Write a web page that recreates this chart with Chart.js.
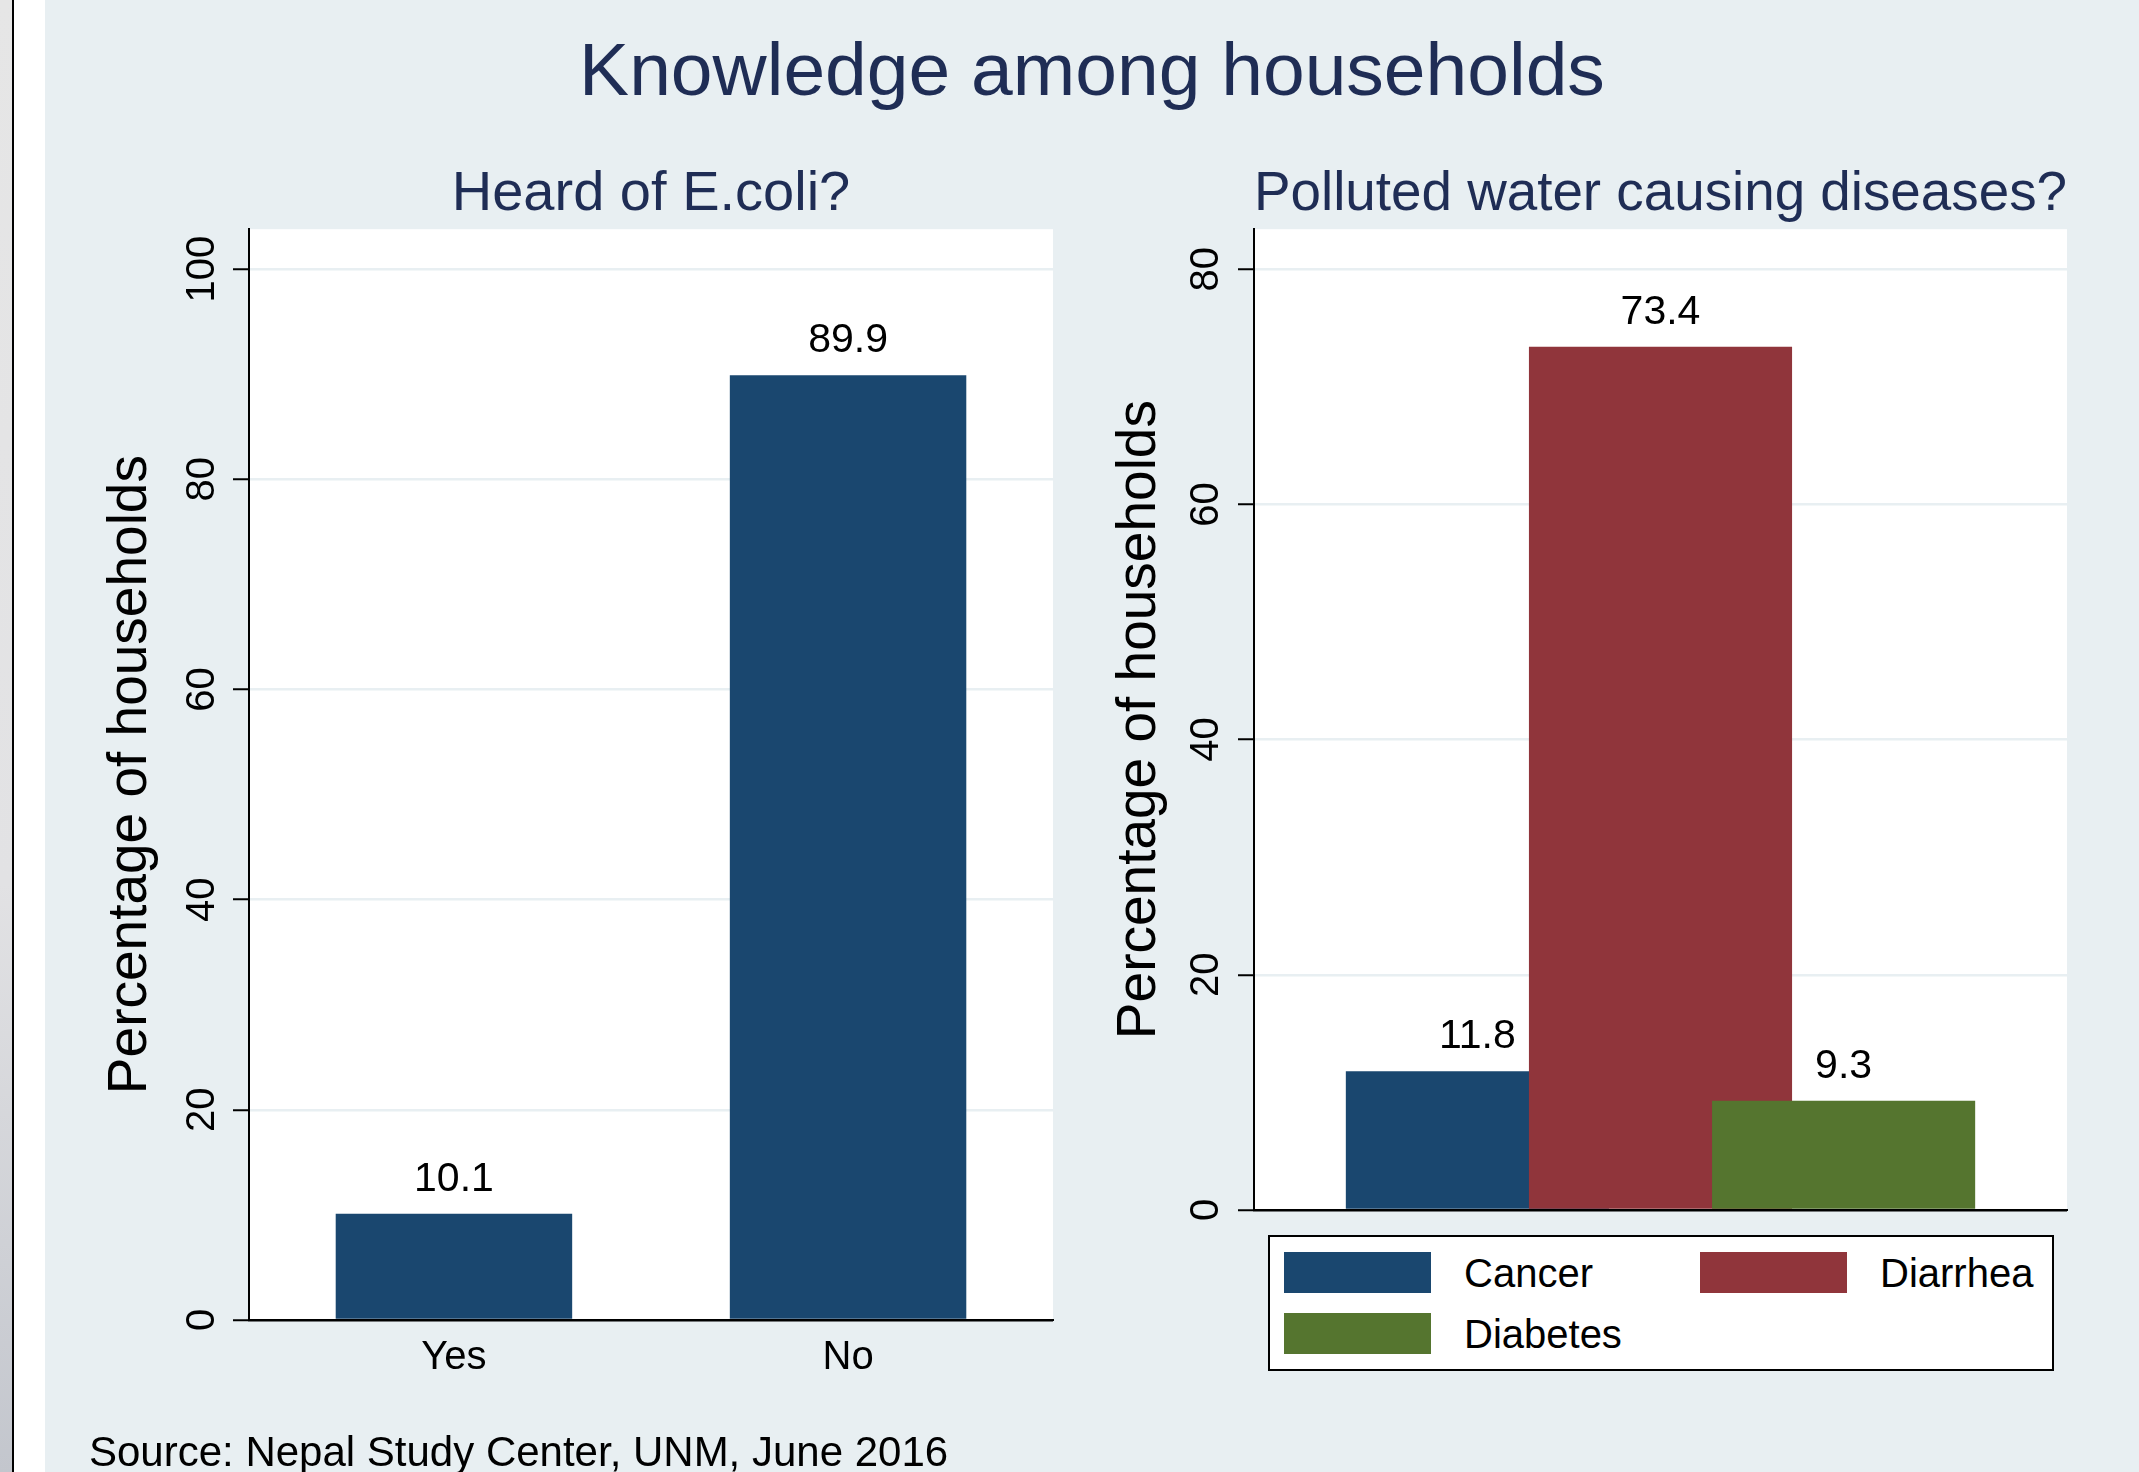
<!DOCTYPE html>
<html>
<head>
<meta charset="utf-8">
<title>Knowledge among households</title>
<script src="https://cdn.jsdelivr.net/npm/chart.js@4.4.1/dist/chart.umd.min.js"></script>
<style>
  html, body { margin: 0; padding: 0; }
  body {
    width: 2139px; height: 1472px; overflow: hidden; position: relative;
    background: #fff; font-family: "Liberation Sans", Arial, sans-serif;
  }
  .edge {
    position: absolute; left: 0; top: 0; width: 12px; height: 1472px;
    background: linear-gradient(#e6e6e6, #e2e2e4 60%, #c3c6cd);
    border-right: 2px solid #000;
  }
  .panel {
    position: absolute; left: 45px; top: 0; width: 2094px; height: 1472px;
    background: #e8eff2;
  }
  .main-title {
    position: absolute; left: 45px; width: 2094px; top: 32px;
    text-align: center; font-size: 75px; line-height: 75px; color: #1f2d55;
  }
  .note {
    position: absolute; left: 89px; top: 1431px;
    font-size: 42px; line-height: 42px; color: #000;
  }
  canvas { position: absolute; }
  #ecoliChart { left: 45px; top: 150px; }
  #diseaseChart { left: 1090px; top: 150px; }
  .legend {
    position: absolute; left: 1268px; top: 1235px; width: 782px; height: 132px;
    background: #fff; border: 2px solid #000;
  }
  .legend .item {
    position: absolute; display: flex; align-items: center; height: 41px;
    font-size: 40px; line-height: 40px; color: #000;
  }
  .legend .swatch { width: 147px; height: 41px; margin-right: 33px; }
</style>
</head>
<body>
<div class="edge"></div>
<div class="panel"></div>
<div class="main-title">Knowledge among households</div>
<canvas id="ecoliChart" width="1045" height="1322"></canvas>
<canvas id="diseaseChart" width="1049" height="1322"></canvas>
<div class="legend" id="diseaseLegend"></div>
<div class="note">Source: Nepal Study Center, UNM, June 2016</div>

<script>
// ---- data ----
const ecoliCategories = ['Yes', 'No'];
const ecoliValues = [10.1, 89.9];
const ecoliTicks = [0, 20, 40, 60, 80, 100];

const diseaseCategories = ['Cancer', 'Diarrhea', 'Diabetes'];
const diseaseValues = [11.8, 73.4, 9.3];
const diseaseTicks = [0, 20, 40, 60, 80];

// ---- styles ----
const navy = '#1a476f';
const diseaseColors = ['#1a476f', '#90353b', '#55752f'];
const gridColor = '#e8eff2';
const titleColor = '#1f2d55';

Chart.defaults.font.family = '"Liberation Sans", Arial, sans-serif';
Chart.defaults.color = '#000';

// white plot region
const plotBg = {
  id: 'plotBg',
  beforeDraw(chart) {
    const { ctx, chartArea: a } = chart;
    ctx.save();
    ctx.fillStyle = '#fff';
    ctx.fillRect(a.left, a.top, a.width, a.height);
    ctx.restore();
  }
};

// value above each bar
const valueLabels = {
  id: 'valueLabels',
  afterDatasetsDraw(chart) {
    const ctx = chart.ctx;
    ctx.save();
    ctx.font = '41px "Liberation Sans", Arial, sans-serif';
    ctx.fillStyle = '#000';
    ctx.textAlign = 'center';
    ctx.textBaseline = 'alphabetic';
    chart.data.datasets.forEach((ds, i) => {
      chart.getDatasetMeta(i).data.forEach((bar, j) => {
        const v = ds.data[j];
        const val = typeof v === 'object' ? v.y : v;
        ctx.fillText(val.toFixed(1), bar.x, bar.y - 23);
      });
    });
    ctx.restore();
  }
};

function yAxis(ticks, max, titlePad, tickPad, width) {
  return {
    min: 0,
    max: max,
    afterBuildTicks: (scale) => { scale.ticks = ticks.map(v => ({ value: v })); },
    afterFit: (scale) => { scale.width = width; },
    border: { color: '#000', width: 2 },
    grid: {
      color: (c) => c.tick && c.tick.value === 0 ? '#000' : gridColor,
      lineWidth: 2.5,
      tickColor: '#000',
      tickLength: 16,
      tickWidth: 2
    },
    ticks: {
      autoSkip: false,
      minRotation: 90,
      maxRotation: 90,
      crossAlign: 'center',
      padding: tickPad,
      font: { size: 40 }
    },
    title: {
      display: true,
      text: 'Percentage of households',
      font: { size: 55 },
      padding: { top: titlePad, bottom: 0 }
    }
  };
}

// category positions on a linear axis (1, 2, 3 ...)
function categoryAxis(names, min, max, showLabels, height) {
  return {
    type: 'linear',
    offset: false,
    min: min,
    max: max,
    afterBuildTicks: (scale) => { scale.ticks = names.map((c, i) => ({ value: i + 1 })); },
    afterFit: (scale) => { scale.height = height; },
    border: { color: '#000', width: 2 },
    grid: { display: false, drawTicks: false },
    ticks: {
      display: showLabels,
      autoSkip: false,
      padding: 14,
      font: { size: 40 },
      callback: (v) => names[v - 1]
    }
  };
}

function subTitle(text) {
  return {
    display: true,
    text: text,
    fullSize: false,
    color: titleColor,
    font: { size: 56, weight: 'normal' },
    padding: { top: 11, bottom: 1 }
  };
}

// ---- left: Heard of E.coli? ----
new Chart(document.getElementById('ecoliChart'), {
  type: 'bar',
  data: {
    datasets: [{
      data: ecoliCategories.map((c, i) => ({ x: i + 1, y: ecoliValues[i] })),
      backgroundColor: navy,
      borderWidth: 0,
      categoryPercentage: 1,
      barPercentage: 0.6
    }]
  },
  options: {
    responsive: false,
    animation: false,
    layout: { padding: { left: 0, right: 37, top: 0, bottom: 72 } },
    plugins: {
      legend: { display: false },
      tooltip: { enabled: false },
      title: subTitle('Heard of E.coli?')
    },
    scales: {
      x: categoryAxis(ecoliCategories, 0.48, 2.52, true, 80),
      y: yAxis(ecoliTicks, 103.8, 53, -3.4, 204)
    }
  },
  plugins: [plotBg, valueLabels]
});

// ---- right: Polluted water causing diseases? ----
const diseaseChart = new Chart(document.getElementById('diseaseChart'), {
  type: 'bar',
  data: {
    datasets: diseaseCategories.map((name, i) => ({
      label: name,
      data: [{ x: i + 1, y: diseaseValues[i] }],
      backgroundColor: diseaseColors[i],
      borderWidth: 0,
      grouped: false,
      order: diseaseCategories.length - i,
      categoryPercentage: 1,
      barPercentage: 1.437
    }))
  },
  options: {
    responsive: false,
    animation: false,
    layout: { padding: { left: 0, right: 72, top: 0, bottom: 252 } },
    plugins: {
      legend: { display: false },
      tooltip: { enabled: false },
      title: subTitle('Polluted water causing diseases?')
    },
    scales: {
      x: categoryAxis(diseaseCategories, -0.22, 4.22, false, 10),
      y: yAxis(diseaseTicks, 83.4, 17, 8.8, 164)
    }
  },
  plugins: [plotBg, valueLabels]
});

// ---- html legend, two columns ----
const legendEl = document.getElementById('diseaseLegend');
diseaseChart.data.datasets.forEach((ds, i) => {
  const item = document.createElement('div');
  item.className = 'item';
  item.style.left = (14 + (i % 2) * 416) + 'px';
  item.style.top = (15 + Math.floor(i / 2) * 61) + 'px';
  const sw = document.createElement('span');
  sw.className = 'swatch';
  sw.style.background = ds.backgroundColor;
  const txt = document.createElement('span');
  txt.textContent = ds.label;
  item.appendChild(sw);
  item.appendChild(txt);
  legendEl.appendChild(item);
});
</script>
</body>
</html>
